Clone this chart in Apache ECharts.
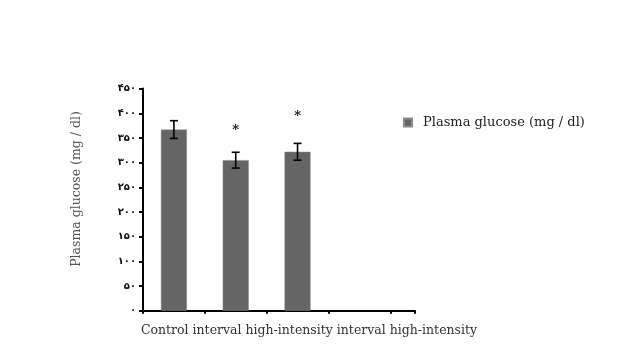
<!DOCTYPE html>
<html><head><meta charset="utf-8">
<script src="https://cdn.jsdelivr.net/npm/echarts@6/dist/echarts.min.js"></script>
<style>html,body{margin:0;padding:0;background:#fff}#c{width:621px;height:354px}</style>
</head><body><div id="c"></div>
<script>
var categories = ["Control", "interval high-intensity", "interval high-intensity"];
var values = [367, 305, 322];
var errors = [18, 16, 17];
var starHeights = [null, 364, 393];
var starMarks = ["", "*", "*"];
var yTicks = [0, 50, 100, 150, 200, 250, 300, 350, 400, 450];
var seriesName = "Plasma glucose (mg / dl)";
var yTitle = "Plasma glucose (mg / dl)";

var faDigits = "۰۱۲۳۴۵۶۷۸۹";
function toFa(n){ return String(n).replace(/[0-9]/g, function(d){ return faDigits[+d]; }); }

var chart = echarts.init(document.getElementById('c'));
var serif = '"DejaVu Serif", "Liberation Serif", serif';
chart.setOption({
  animation: false,
  backgroundColor: '#fff',
  grid: { left: 143, right: 206, top: 88.6, bottom: 43.3, containLabel: false },
  legend: {
    data: [seriesName], left: 398, top: 111, icon: 'rect', itemWidth: 8, itemHeight: 8, itemGap: 10,
    textStyle: { fontFamily: serif, fontSize: 13, color: '#222', padding: [0, 0, 0, 6] }
  },
  xAxis: {
    type: 'value', min: 0, max: 4.4, interval: 1,
    axisLine: { show: true, lineStyle: { color: '#000', width: 2 } },
    axisTick: { show: true, length: 3, lineStyle: { color: '#000', width: 2 } },
    axisLabel: { show: false }, splitLine: { show: false }
  },
  yAxis: {
    type: 'value', min: 0, max: 450, interval: 50,
    axisLine: { show: true, lineStyle: { color: '#000', width: 2 } },
    axisTick: { show: true, length: 4, lineStyle: { color: '#000', width: 2 } },
    axisLabel: { formatter: function(v){ return toFa(v); }, fontSize: 10, fontWeight: 'bold', color: '#111', margin: 7, fontFamily: '"DejaVu Sans", sans-serif' },
    splitLine: { show: false }
  },
  graphic: [
    { type: 'text', x: 309, y: 331, style: { text: categories.join(' '), font: '12.5px ' + serif, fill: '#333', textAlign: 'center', textVerticalAlign: 'middle' } },
    { type: 'text', x: 77, y: 189, rotation: Math.PI/2, style: { text: yTitle, font: '12.5px ' + serif, fill: '#555', textAlign: 'center', textVerticalAlign: 'middle' } }
  ],
  series: [
    {
      name: seriesName, type: 'bar', barWidth: 26, z: 2,
      itemStyle: { color: '#656565', borderColor: '#8a8a8a', borderWidth: 0.5 },
      data: values.map(function(v, i){ return [i + 0.5, v]; })
    },
    {
      type: 'custom', silent: true, z: 10,
      data: values.map(function(v, i){ return [i + 0.5, v, errors[i]]; }),
      renderItem: function(params, api){
        var x = api.value(0), v = api.value(1), e = api.value(2);
        var top = api.coord([x, v + e]), bot = api.coord([x, v - e]);
        var w = 4;
        var st = { stroke: '#000', lineWidth: 1.6 };
        return { type: 'group', children: [
          { type: 'line', shape: { x1: top[0], y1: top[1], x2: bot[0], y2: bot[1] }, style: st },
          { type: 'line', shape: { x1: top[0]-w, y1: top[1], x2: top[0]+w, y2: top[1] }, style: st },
          { type: 'line', shape: { x1: bot[0]-w, y1: bot[1], x2: bot[0]+w, y2: bot[1] }, style: st }
        ]};
      }
    },
    {
      type: 'custom', silent: true, z: 10,
      data: starHeights.map(function(h, i){ return [i + 0.5, h == null ? 0 : h, starMarks[i]]; }),
      renderItem: function(params, api){
        var mark = starMarks[params.dataIndex];
        if (!mark) return null;
        var p = api.coord([api.value(0), api.value(1)]);
        return { type: 'text', x: p[0], y: p[1], style: { text: mark, font: 'bold 13px ' + serif, fill: '#111', textAlign: 'center', textVerticalAlign: 'middle' } };
      }
    }
  ]
});
</script></body></html>
